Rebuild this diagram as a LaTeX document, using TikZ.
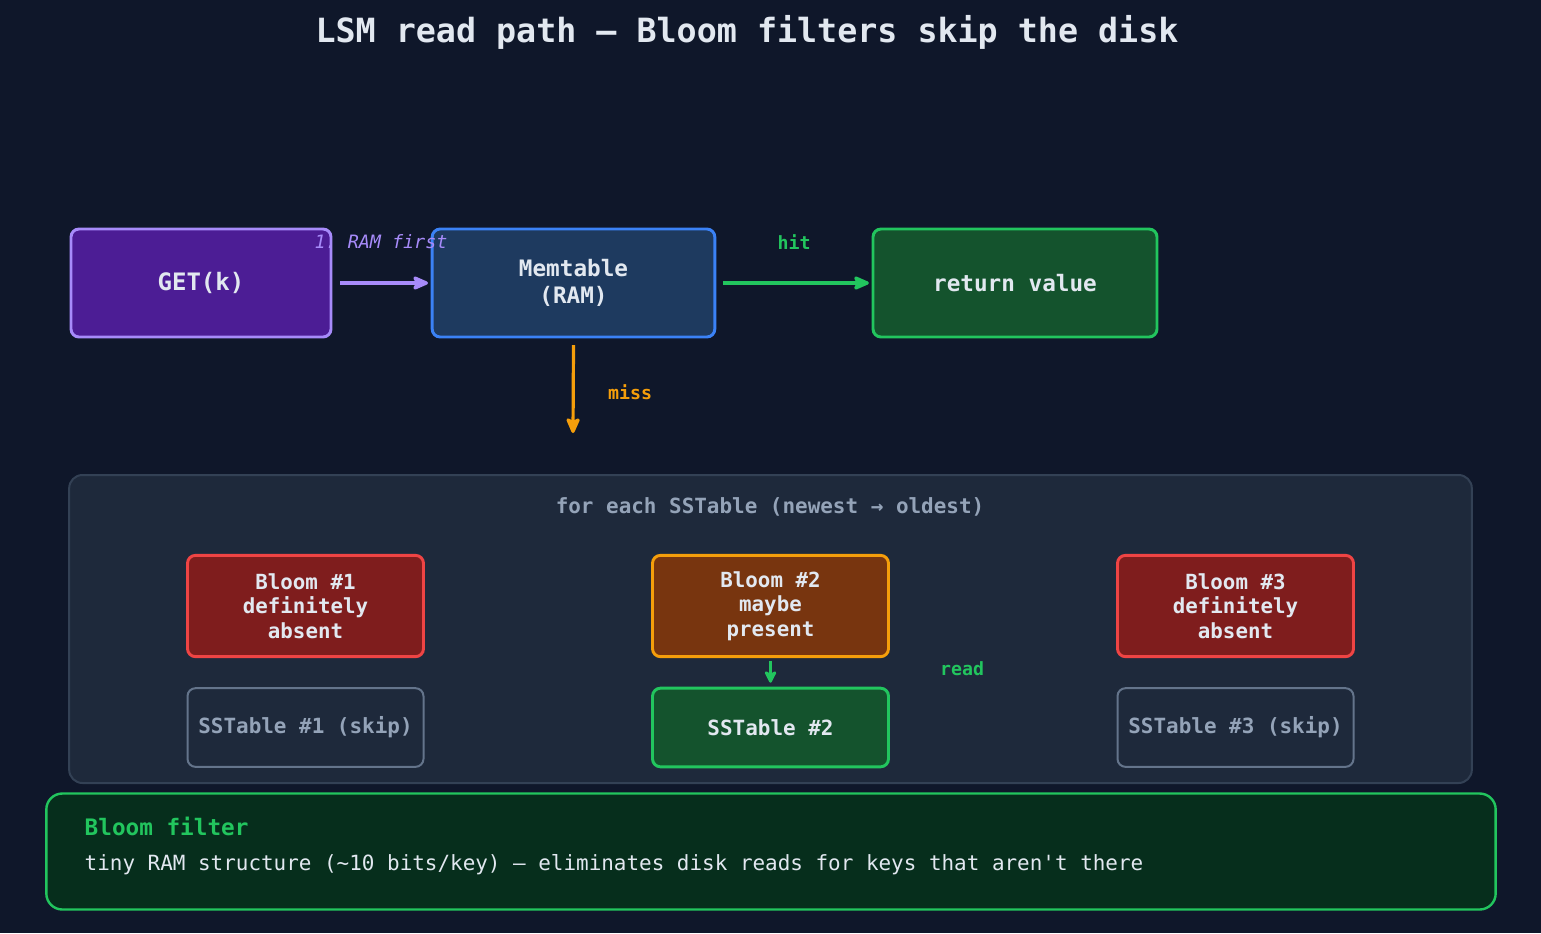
\documentclass[tikz,border=0pt]{standalone}
\usepackage{fontspec}
\setmonofont{DejaVu Sans Mono}
\usetikzlibrary{arrows.meta}
\definecolor{bg}{HTML}{0F172A}
\definecolor{txt}{HTML}{E2E8F0}
\definecolor{gray}{HTML}{94A3B8}
\definecolor{purpF}{HTML}{4C1D95}\definecolor{purpS}{HTML}{A78BFA}
\definecolor{blueF}{HTML}{1E3A5F}\definecolor{blueS}{HTML}{3B82F6}
\definecolor{grnF}{HTML}{14532D}\definecolor{grnS}{HTML}{22C55E}
\definecolor{redF}{HTML}{7F1D1D}\definecolor{redS}{HTML}{EF4444}
\definecolor{orF}{HTML}{78350F}\definecolor{orS}{HTML}{F59E0B}
\definecolor{contF}{HTML}{1E293B}\definecolor{contS}{HTML}{334155}
\definecolor{skipS}{HTML}{64748B}
\definecolor{noteF}{HTML}{062E1C}
\begin{document}
\begin{tikzpicture}[x=0.75pt,y=-0.75pt,font=\ttfamily,
  box/.style={draw,rounded corners=6pt,line width=2.2pt,align=center,text=txt,font=\ttfamily\bfseries},
  arr/.style={line width=2.4pt,-{Stealth[length=14pt,width=12pt,inset=3pt,round]}},
  lbl/.style={font=\fontsize{13.7}{16}\selectfont\ttfamily\bfseries}]
\fill[bg] (0,0) rectangle (1541,933);
\useasboundingbox (0,0) rectangle (1541,933);
\node[text=txt,font=\fontsize{25}{30}\selectfont\ttfamily\bfseries] (title) at (747,32) {LSM read path — Bloom filters skip the disk};
\node[box,fill=purpF,draw=purpS,minimum width=195pt,minimum height=81pt,font=\fontsize{18}{22}\selectfont\ttfamily\bfseries] (get) at (201,283) {GET(k)};
\node[box,fill=blueF,draw=blueS,minimum width=212pt,minimum height=81pt,font=\fontsize{17}{20}\selectfont\ttfamily\bfseries] (mem) at (573.5,283) {Memtable\\(RAM)};
\node[box,fill=grnF,draw=grnS,minimum width=213pt,minimum height=81pt,font=\fontsize{17}{20}\selectfont\ttfamily\bfseries] (ret) at (1015,283) {return value};
\draw[arr,purpS] ([xshift=6pt]get.east) -- ([xshift=-2pt]mem.west);
\node[text=purpS,font=\fontsize{13.8}{16}\selectfont\ttfamily\itshape] (l1) at (381,242) {1. RAM first};
\draw[arr,grnS] ([xshift=5pt]mem.east) -- ([xshift=-2pt]ret.west);
\node[lbl,text=grnS] (lhit) at (794,242) {hit};
\coordinate (missend) at (573,433);
\draw[arr,orS] ([yshift=-5pt]mem.south) -- (missend);
\node[lbl,text=orS] (lmiss) at (630,392) {miss};
\node[draw=contS,fill=contF,line width=1.5pt,rounded corners=10pt,minimum width=1052pt,minimum height=231pt] (cont) at (770.5,629) {};
\node[text=gray,font=\fontsize{15.7}{19}\selectfont\ttfamily\bfseries] (clbl) at (770,507) {for each SSTable (newest → oldest)};
\tikzset{bl/.style={box,minimum width=177pt,minimum height=76pt,font=\fontsize{15.6}{18.5}\selectfont\ttfamily\bfseries},
 ss/.style={box,minimum width=177pt,minimum height=59pt,font=\fontsize{15.7}{19}\selectfont\ttfamily\bfseries}}
\node[bl,fill=redF,draw=redS] (b1) at (305.5,606) {Bloom \#1\\definitely\\absent};
\node[bl,fill=orF,draw=orS] (b2) at (770.5,606) {Bloom \#2\\maybe\\present};
\node[bl,fill=redF,draw=redS] (b3) at (1235.5,606) {Bloom \#3\\definitely\\absent};
\node[ss,fill=contF,draw=skipS,line width=1.5pt,text=gray] (s1) at (305.5,727.5) {SSTable \#1 (skip)};
\node[ss,fill=grnF,draw=grnS] (s2) at (770.5,727.5) {SSTable \#2};
\node[ss,fill=contF,draw=skipS,line width=1.5pt,text=gray] (s3) at (1235.5,727.5) {SSTable \#3 (skip)};
\draw[line width=2.4pt,grnS,-{Stealth[length=11pt,width=11pt,inset=3pt,round]}] ([yshift=-2pt]b2.south) -- ([yshift=3pt]s2.north);
\node[lbl,text=grnS] (lread) at (962,669) {read};
\node[draw=grnS,fill=noteF,line width=1.8pt,rounded corners=12pt,minimum width=1087pt,minimum height=87pt] (note) at (771,851.5) {};
\node[anchor=west,text=grnS,font=\fontsize{17}{20}\selectfont\ttfamily\bfseries] (nt) at (80,826) {Bloom filter};
\node[anchor=west,text=txt,font=\fontsize{15.7}{19}\selectfont\ttfamily] (nd) at (80,865) {tiny RAM structure (\textasciitilde10 bits/key) — eliminates disk reads for keys that aren't there};
\end{tikzpicture}
\end{document}
